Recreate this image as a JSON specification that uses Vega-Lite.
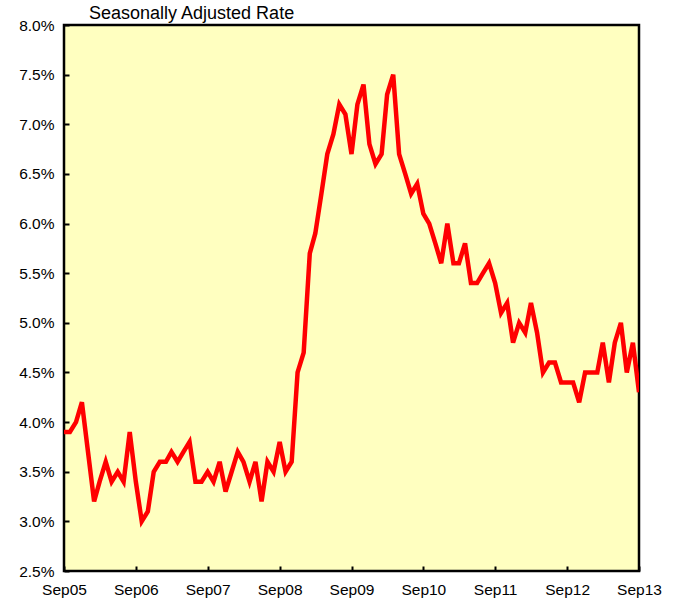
{
  "$schema": "https://vega.github.io/schema/vega-lite/v6.json",
  "width": 575,
  "height": 546,
  "autosize": {"type": "none"},
  "padding": {"left": 64, "top": 25, "right": 35, "bottom": 28},
  "background": "white",
  "title": {
    "text": "Seasonally Adjusted Rate",
    "anchor": "start",
    "frame": "group",
    "orient": "top",
    "baseline": "bottom",
    "offset": 2,
    "dy": 25,
    "dx": 25,
    "font": "Liberation Sans",
    "fontSize": 18,
    "fontWeight": "normal",
    "color": "black"
  },
  "config": {
    "view": {"fill": "#FFFFC0", "stroke": "black", "strokeWidth": 2.5},
    "axis": {
      "domain": false,
      "grid": false,
      "tickColor": "black",
      "tickSize": -5,
      "tickWidth": 2,
      "labelFont": "Liberation Sans",
      "labelFontSize": 15.5,
      "labelColor": "black",
      "title": null
    }
  },
  "data": {
    "values": [
      {"month": "2005-09-01", "rate": 3.9},
      {"month": "2005-10-01", "rate": 3.9},
      {"month": "2005-11-01", "rate": 4.0},
      {"month": "2005-12-01", "rate": 4.2},
      {"month": "2006-01-01", "rate": 3.7},
      {"month": "2006-02-01", "rate": 3.2},
      {"month": "2006-03-01", "rate": 3.4},
      {"month": "2006-04-01", "rate": 3.6},
      {"month": "2006-05-01", "rate": 3.4},
      {"month": "2006-06-01", "rate": 3.5},
      {"month": "2006-07-01", "rate": 3.4},
      {"month": "2006-08-01", "rate": 3.9},
      {"month": "2006-09-01", "rate": 3.4},
      {"month": "2006-10-01", "rate": 3.0},
      {"month": "2006-11-01", "rate": 3.1},
      {"month": "2006-12-01", "rate": 3.5},
      {"month": "2007-01-01", "rate": 3.6},
      {"month": "2007-02-01", "rate": 3.6},
      {"month": "2007-03-01", "rate": 3.7},
      {"month": "2007-04-01", "rate": 3.6},
      {"month": "2007-05-01", "rate": 3.7},
      {"month": "2007-06-01", "rate": 3.8},
      {"month": "2007-07-01", "rate": 3.4},
      {"month": "2007-08-01", "rate": 3.4},
      {"month": "2007-09-01", "rate": 3.5},
      {"month": "2007-10-01", "rate": 3.4},
      {"month": "2007-11-01", "rate": 3.6},
      {"month": "2007-12-01", "rate": 3.3},
      {"month": "2008-01-01", "rate": 3.5},
      {"month": "2008-02-01", "rate": 3.7},
      {"month": "2008-03-01", "rate": 3.6},
      {"month": "2008-04-01", "rate": 3.4},
      {"month": "2008-05-01", "rate": 3.6},
      {"month": "2008-06-01", "rate": 3.2},
      {"month": "2008-07-01", "rate": 3.6},
      {"month": "2008-08-01", "rate": 3.5},
      {"month": "2008-09-01", "rate": 3.8},
      {"month": "2008-10-01", "rate": 3.5},
      {"month": "2008-11-01", "rate": 3.6},
      {"month": "2008-12-01", "rate": 4.5},
      {"month": "2009-01-01", "rate": 4.7},
      {"month": "2009-02-01", "rate": 5.7},
      {"month": "2009-03-01", "rate": 5.9},
      {"month": "2009-04-01", "rate": 6.3},
      {"month": "2009-05-01", "rate": 6.7},
      {"month": "2009-06-01", "rate": 6.9},
      {"month": "2009-07-01", "rate": 7.2},
      {"month": "2009-08-01", "rate": 7.1},
      {"month": "2009-09-01", "rate": 6.7},
      {"month": "2009-10-01", "rate": 7.2},
      {"month": "2009-11-01", "rate": 7.4},
      {"month": "2009-12-01", "rate": 6.8},
      {"month": "2010-01-01", "rate": 6.6},
      {"month": "2010-02-01", "rate": 6.7},
      {"month": "2010-03-01", "rate": 7.3},
      {"month": "2010-04-01", "rate": 7.5},
      {"month": "2010-05-01", "rate": 6.7},
      {"month": "2010-06-01", "rate": 6.5},
      {"month": "2010-07-01", "rate": 6.3},
      {"month": "2010-08-01", "rate": 6.4},
      {"month": "2010-09-01", "rate": 6.1},
      {"month": "2010-10-01", "rate": 6.0},
      {"month": "2010-11-01", "rate": 5.8},
      {"month": "2010-12-01", "rate": 5.6},
      {"month": "2011-01-01", "rate": 6.0},
      {"month": "2011-02-01", "rate": 5.6},
      {"month": "2011-03-01", "rate": 5.6},
      {"month": "2011-04-01", "rate": 5.8},
      {"month": "2011-05-01", "rate": 5.4},
      {"month": "2011-06-01", "rate": 5.4},
      {"month": "2011-07-01", "rate": 5.5},
      {"month": "2011-08-01", "rate": 5.6},
      {"month": "2011-09-01", "rate": 5.4},
      {"month": "2011-10-01", "rate": 5.1},
      {"month": "2011-11-01", "rate": 5.2},
      {"month": "2011-12-01", "rate": 4.8},
      {"month": "2012-01-01", "rate": 5.0},
      {"month": "2012-02-01", "rate": 4.9},
      {"month": "2012-03-01", "rate": 5.2},
      {"month": "2012-04-01", "rate": 4.9},
      {"month": "2012-05-01", "rate": 4.5},
      {"month": "2012-06-01", "rate": 4.6},
      {"month": "2012-07-01", "rate": 4.6},
      {"month": "2012-08-01", "rate": 4.4},
      {"month": "2012-09-01", "rate": 4.4},
      {"month": "2012-10-01", "rate": 4.4},
      {"month": "2012-11-01", "rate": 4.2},
      {"month": "2012-12-01", "rate": 4.5},
      {"month": "2013-01-01", "rate": 4.5},
      {"month": "2013-02-01", "rate": 4.5},
      {"month": "2013-03-01", "rate": 4.8},
      {"month": "2013-04-01", "rate": 4.4},
      {"month": "2013-05-01", "rate": 4.8},
      {"month": "2013-06-01", "rate": 5.0},
      {"month": "2013-07-01", "rate": 4.5},
      {"month": "2013-08-01", "rate": 4.8},
      {"month": "2013-09-01", "rate": 4.3}
    ]
  },
  "mark": {"type": "line", "color": "#FF0000", "strokeWidth": 4.5, "clip": true},
  "encoding": {
    "x": {
      "field": "month",
      "type": "temporal",
      "scale": {
        "type": "utc",
        "domain": [
          {"year": 2005, "month": 9, "date": 1, "utc": true},
          {"year": 2013, "month": 9, "date": 1, "utc": true}
        ]
      },
      "axis": {
        "values": [
          {"year": 2005, "month": 9, "date": 1, "utc": true},
          {"year": 2006, "month": 9, "date": 1, "utc": true},
          {"year": 2007, "month": 9, "date": 1, "utc": true},
          {"year": 2008, "month": 9, "date": 1, "utc": true},
          {"year": 2009, "month": 9, "date": 1, "utc": true},
          {"year": 2010, "month": 9, "date": 1, "utc": true},
          {"year": 2011, "month": 9, "date": 1, "utc": true},
          {"year": 2012, "month": 9, "date": 1, "utc": true},
          {"year": 2013, "month": 9, "date": 1, "utc": true}
        ],
        "format": "%b%y",
        "labelPadding": 16,
        "labelFlush": false,
        "labelOverlap": false
      }
    },
    "y": {
      "field": "rate",
      "type": "quantitative",
      "scale": {"domain": [2.5, 8.0], "nice": false, "zero": false},
      "axis": {
        "values": [2.5, 3.0, 3.5, 4.0, 4.5, 5.0, 5.5, 6.0, 6.5, 7.0, 7.5, 8.0],
        "labelExpr": "format(datum.value, '.1f') + '%'",
        "labelPadding": 15,
        "labelFlush": false,
        "labelOverlap": false
      }
    }
  }
}
